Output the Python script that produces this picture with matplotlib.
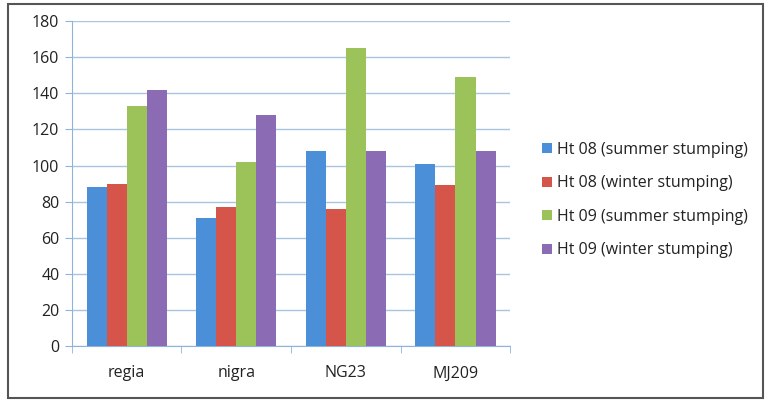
import numpy as np
import matplotlib.pyplot as plt
from matplotlib.patches import Rectangle

plt.rcParams['font.family'] = ['Open Sans', 'DejaVu Sans']

categories = ['regia', 'nigra', 'NG23', 'MJ209']
series_names = ['Ht 08 (summer stumping)', 'Ht 08 (winter stumping)',
                'Ht 09 (summer stumping)', 'Ht 09 (winter stumping)']
ht08_summer = [88, 71, 108, 101]
ht08_winter = [90, 77, 76, 89]
ht09_summer = [133, 102, 165, 149]
ht09_winter = [142, 128, 108, 108]
colors = ['#4a8fd8', '#d6554b', '#9bc35a', '#8b6bb3']

fig = plt.figure(figsize=(7.65, 4.0), dpi=100)
# outer frame around the whole chart
fig.patches.append(Rectangle((0.011, 0.006), 0.986, 0.985, transform=fig.transFigure,
                             fill=False, edgecolor='#555555', linewidth=1.5))

ax = fig.add_axes([0.094, 0.135, 0.573, 0.812])

x = np.arange(len(categories))
width = 0.183
all_series = [ht08_summer, ht08_winter, ht09_summer, ht09_winter]
for i, (vals, c, name) in enumerate(zip(all_series, colors, series_names)):
    ax.bar(x + (i - 1.5) * width, vals, width, color=c, label=name, zorder=3)

ax.set_xlim(-0.5, 3.5)
ax.set_ylim(0, 180)
ax.set_yticks(range(0, 181, 20))
ax.yaxis.grid(True, color='#a9c4e0', linewidth=1.0, zorder=0)

for side in ['top', 'right']:
    ax.spines[side].set_visible(False)
for side in ['left', 'bottom']:
    ax.spines[side].set_color('#8fb3da')

ax.set_xticks(x)
ax.set_xticklabels(categories, fontsize=11.5, color='#222222')
ax.tick_params(axis='x', length=0, pad=14)
ax.set_xticks(np.arange(-0.5, 4.0, 1.0), minor=True)
ax.tick_params(axis='x', which='minor', length=5, color='#8fb3da')
ax.tick_params(axis='y', length=5, color='#8fb3da', labelsize=11.5, labelcolor='#222222', pad=4)

fig.legend(loc='center left', bbox_to_anchor=(0.69, 0.5), frameon=False,
           fontsize=11.5, handlelength=0.6, handleheight=0.6, handletextpad=0.3,
           labelspacing=1.1, labelcolor='#222222')

fig.savefig('out.png', dpi=100, facecolor='white')
